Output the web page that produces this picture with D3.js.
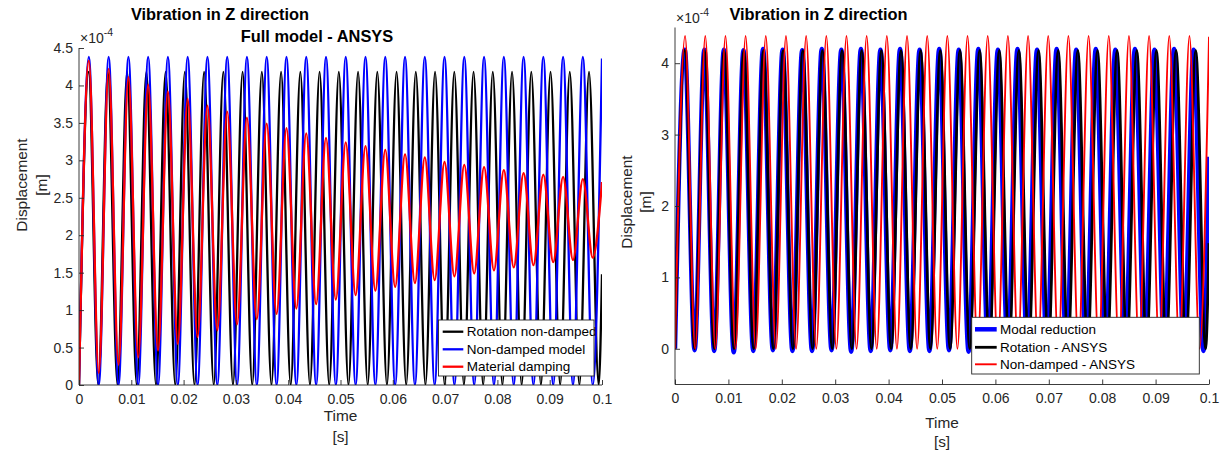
<!DOCTYPE html>
<html><head><meta charset="utf-8">
<script src="https://cdn.jsdelivr.net/npm/d3@7/dist/d3.min.js"></script>
<style>
body{margin:0;background:#fff}
svg{display:block}
text{font-family:"Liberation Sans",Arial,Helvetica,sans-serif}
</style>
</head><body>
<svg id="c" width="1232" height="454"></svg>
<script>
// ---------- DATA (displacement values in units of 1e-4 m) ----------
// time [s] of successive troughs/peaks (extrema) + end of record, for the three oscillation periods seen
const timeA = [0,0.00189,0.00378,0.00567,0.00756,0.00945,0.01133,0.01322,0.01511,0.01700,0.01889,0.02078,0.02267,0.02456,0.02645,0.02834,0.03022,0.03211,0.03400,0.03589,0.03778,0.03967,0.04156,0.04345,0.04534,0.04723,0.04911,0.05100,0.05289,0.05478,0.05667,0.05856,0.06045,0.06234,0.06423,0.06612,0.06800,0.06989,0.07178,0.07367,0.07556,0.07745,0.07934,0.08123,0.08312,0.08501,0.08689,0.08878,0.09067,0.09256,0.09445,0.09634,0.09823,0.1];
const timeB = [0,0.00184,0.00368,0.00552,0.00736,0.00920,0.01104,0.01288,0.01472,0.01656,0.01840,0.02024,0.02208,0.02392,0.02576,0.02760,0.02944,0.03128,0.03312,0.03496,0.03680,0.03864,0.04048,0.04232,0.04416,0.04600,0.04784,0.04968,0.05152,0.05336,0.05520,0.05704,0.05888,0.06072,0.06256,0.06440,0.06624,0.06808,0.06992,0.07176,0.07360,0.07544,0.07728,0.07912,0.08096,0.08280,0.08464,0.08648,0.08832,0.09016,0.09200,0.09384,0.09568,0.09752,0.09936,0.1];
const timeC = [0,0.00183,0.00367,0.00550,0.00733,0.00916,0.01100,0.01283,0.01466,0.01649,0.01833,0.02016,0.02199,0.02382,0.02566,0.02749,0.02932,0.03115,0.03299,0.03482,0.03665,0.03848,0.04032,0.04215,0.04398,0.04581,0.04765,0.04948,0.05131,0.05314,0.05498,0.05681,0.05864,0.06047,0.06231,0.06414,0.06597,0.06780,0.06964,0.07147,0.07330,0.07513,0.07697,0.07880,0.08063,0.08246,0.08430,0.08613,0.08796,0.08979,0.09163,0.09346,0.09529,0.09712,0.09896,0.1];

// Left panel: Full model - ANSYS
const rotationNonDamped = [0,4.18,0,4.18,0,4.18,0,4.18,0,4.18,0,4.18,0,4.18,0,4.18,0,4.18,0,4.18,0,4.18,0,4.18,0,4.18,0,4.18,0,4.18,0,4.18,0,4.18,0,4.18,0,4.18,0,4.18,0,4.18,0,4.18,0,4.18,0,4.18,0,4.18,0,4.18,0,4.18,0,1.48];
const nonDampedModel = [0,4.38,0,4.38,0,4.38,0,4.38,0,4.38,0,4.38,0,4.38,0,4.38,0,4.38,0,4.38,0,4.38,0,4.38,0,4.38,0,4.38,0,4.38,0,4.38,0,4.38,0,4.38,0,4.38,0,4.38,0,4.38,0,4.38,0,4.38,0,4.38,0,4.38,0,4.38,0,4.36];
const materialDamping = [0,4.33,0.16,4.22,0.27,4.11,0.37,4.01,0.46,3.92,0.55,3.82,0.64,3.73,0.73,3.65,0.81,3.57,0.88,3.49,0.95,3.43,1.02,3.36,1.08,3.30,1.14,3.24,1.20,3.19,1.26,3.14,1.31,3.08,1.36,3.04,1.40,2.98,1.45,2.94,1.49,2.91,1.53,2.87,1.57,2.83,1.60,2.81,1.64,2.78,1.67,2.75,1.70,2.71];

// Right panel
const modalReduction = [0,4.19,-0.02,4.19,-0.03,4.19,-0.05,4.18,-0.03,4.20,-0.02,4.19,-0.03,4.18,-0.03,4.20,-0.02,4.19,-0.04,4.20,-0.03,4.19,-0.02,4.20,-0.03,4.19,-0.03,4.20,-0.02,4.19,-0.04,4.20,-0.03,4.19,-0.02,4.20,-0.03,4.19,-0.03,4.20,-0.02,4.19,-0.04,4.20,-0.03,4.19,-0.02,4.20,-0.03,4.19,-0.03,4.20,-0.02,4.19,-0.03,2.69];
const rotationANSYS = rotationNonDamped;
const nonDampedANSYS = [0,4.38,0,4.38,0,4.38,0,4.38,0,4.38,0,4.38,0,4.38,0,4.38,0,4.38,0,4.38,0,4.38,0,4.38,0,4.38,0,4.38,0,4.38,0,4.38,0,4.38,0,4.38,0,4.38,0,4.38,0,4.38,0,4.38,0,4.38,0,4.38,0,4.38,0,4.38,0,4.37];

// ticks
const xTicks = [0,0.01,0.02,0.03,0.04,0.05,0.06,0.07,0.08,0.09,0.1];
const xTickLabels = ["0","0.01","0.02","0.03","0.04","0.05","0.06","0.07","0.08","0.09","0.1"];
const yTicksLeft = [0,0.5,1,1.5,2,2.5,3,3.5,4,4.5];
const yTickLabelsLeft = ["0","0.5","1","1.5","2","2.5","3","3.5","4","4.5"];
const yTicksRight = [0,1,2,3,4];
const yTickLabelsRight = ["0","1","2","3","4"];

// ---------- DRAWING ----------
const svg = d3.select("#c");
const AX = "#262626";

const panels = [
  {
    id: "L", left: 79, right: 602, top: 48, bottom: 385, yDomain: [0, 4.5],
    yTicks: yTicksLeft, yLabels: yTickLabelsLeft,
    series: [
      {name: "Rotation non-damped", t: timeB, v: rotationNonDamped, color: "#000000", width: 2.3},
      {name: "Non-damped model", t: timeA, v: nonDampedModel, color: "#0000ff", width: 2.3},
      {name: "Material damping", t: timeA, v: materialDamping, color: "#ff0000", width: 2.3}
    ],
    titles: [{text: "Vibration in Z direction", x: 220, y: 20}, {text: "Full model - ANSYS", x: 317, y: 41.5}],
    exp: {x: 80, y: 43},
    ylab: {cx: 185, x1: 27, x2: 47},
    xlab: {cx: 340.5, y1: 420.5, y2: 442},
    legend: {x0: 438.5, y0: 320, x1: 594, y1: 376, lx0: 442.7, lx1: 463.3, tx: 466.7, rows: [331.7, 349.3, 366.7]}
  },
  {
    id: "R", left: 675, right: 1209, top: 27.5, bottom: 384.5, yDomain: [-0.5, 4.5],
    yTicks: yTicksRight, yLabels: yTickLabelsRight,
    series: [
      {name: "Modal reduction", t: timeC, v: modalReduction, color: "#0000ff", width: 4.5},
      {name: "Rotation - ANSYS", t: timeB, v: rotationANSYS, color: "#000000", width: 2.8},
      {name: "Non-damped - ANSYS", t: timeA, v: nonDampedANSYS, color: "#ff0000", width: 1.9}
    ],
    titles: [{text: "Vibration in Z direction", x: 818.5, y: 20}],
    exp: {x: 676, y: 23},
    ylab: {cx: 202, x1: 632, x2: 651},
    xlab: {cx: 942, y1: 427.5, y2: 447},
    legend: {x0: 971.7, y0: 317.3, x1: 1199.3, y1: 374, lx0: 975, lx1: 996.7, tx: 1000, rows: [329.3, 347.3, 364.3]}
  }
];

panels.forEach(p => {
  const x = d3.scaleLinear().domain([0, 0.1]).range([p.left, p.right]);
  const y = d3.scaleLinear().domain(p.yDomain).range([p.bottom, p.top]);
  const clipId = "clip" + p.id;
  svg.append("clipPath").attr("id", clipId).append("rect")
    .attr("x", p.left).attr("y", p.top).attr("width", p.right - p.left).attr("height", p.bottom - p.top);

  const line = d3.line().x(d => x(d[0])).y(d => y(d[1])).curve(d3.curveMonotoneX);
  const g = svg.append("g").attr("clip-path", `url(#${clipId})`);
  p.series.forEach(s => {
    g.append("path").datum(d3.zip(s.t, s.v)).attr("d", line)
      .attr("fill", "none").attr("stroke", s.color).attr("stroke-width", s.width)
      .attr("stroke-linejoin", "round");
  });

  // axes
  const xa = svg.append("g").attr("transform", `translate(0,${p.bottom})`)
    .call(d3.axisBottom(x).tickValues(xTicks).tickFormat((d, i) => xTickLabels[i])
      .tickSizeInner(-5).tickSizeOuter(0).tickPadding(9));
  const ya = svg.append("g").attr("transform", `translate(${p.left},0)`)
    .call(d3.axisLeft(y).tickValues(p.yTicks).tickFormat((d, i) => p.yLabels[i])
      .tickSizeInner(-5).tickSizeOuter(0).tickPadding(6));
  [xa, ya].forEach(a => {
    a.attr("font-family", null).attr("font-size", null);
    a.select(".domain").attr("stroke", AX).attr("stroke-width", 0.9);
    a.selectAll(".tick line").attr("stroke", AX).attr("stroke-width", 0.9);
    a.selectAll(".tick text").attr("fill", AX).style("font-size", "14px");
  });
  ya.select(".domain").attr("d", `M0,${p.top}V${p.bottom}`);
  xa.select(".domain").attr("d", `M${p.left},0H${p.right}`);

  // exponent label
  const ex = svg.append("text").attr("x", p.exp.x).attr("y", p.exp.y).attr("fill", AX).style("font-size", "14px");
  ex.append("tspan").text("×10");
  ex.append("tspan").attr("dy", -7).style("font-size", "10.5px").text("-4");

  // titles
  p.titles.forEach(t => {
    svg.append("text").attr("x", t.x).attr("y", t.y).attr("text-anchor", "middle")
      .style("font-size", "16.4px").style("font-weight", "bold").attr("fill", "#000").text(t.text);
  });

  // axis labels
  svg.append("text").attr("transform", `translate(${p.ylab.x1},${p.ylab.cx}) rotate(-90)`)
    .attr("text-anchor", "middle").style("font-size", "15.4px").attr("fill", AX).text("Displacement");
  svg.append("text").attr("transform", `translate(${p.ylab.x2},${p.ylab.cx}) rotate(-90)`)
    .attr("text-anchor", "middle").style("font-size", "15.4px").attr("fill", AX).text("[m]");
  svg.append("text").attr("x", p.xlab.cx).attr("y", p.xlab.y1).attr("text-anchor", "middle")
    .style("font-size", "15.4px").attr("fill", AX).text("Time");
  svg.append("text").attr("x", p.xlab.cx).attr("y", p.xlab.y2).attr("text-anchor", "middle")
    .style("font-size", "15.4px").attr("fill", AX).text("[s]");

  // legend
  const L = p.legend;
  const lg = svg.append("g");
  lg.append("rect").attr("x", L.x0).attr("y", L.y0).attr("width", L.x1 - L.x0).attr("height", L.y1 - L.y0)
    .attr("fill", "#fff");
  p.series.forEach((s, i) => {
    lg.append("line").attr("x1", L.lx0).attr("x2", L.lx1).attr("y1", L.rows[i]).attr("y2", L.rows[i])
      .attr("stroke", s.color).attr("stroke-width", s.width);
    lg.append("text").attr("x", L.tx).attr("y", L.rows[i]).attr("dy", "0.35em")
      .style("font-size", "13.5px").attr("fill", "#000").text(s.name);
  });
  lg.append("rect").attr("x", L.x0).attr("y", L.y0).attr("width", L.x1 - L.x0).attr("height", L.y1 - L.y0)
    .attr("fill", "none").attr("stroke", AX).attr("stroke-width", 0.9);
});
</script>
</body></html>
